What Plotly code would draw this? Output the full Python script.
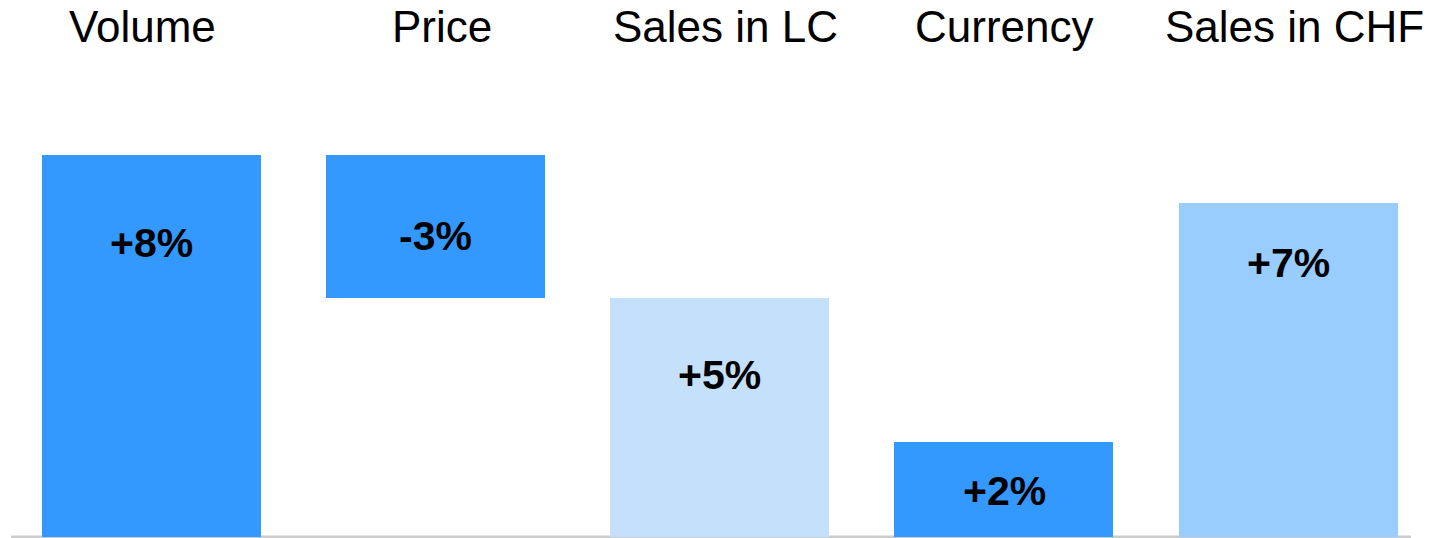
import plotly.graph_objects as go

# ---- data ----
categories = ["Volume", "Price", "Sales in LC", "Currency", "Sales in CHF"]
bar_base = [0, 5, 0, 0, 0]          # bottom of each bar (%)
bar_height = [8, 3, 5, 2, 7]        # height of each bar (%)
bar_labels = ["+8%", "-3%", "+5%", "+2%", "+7%"]

# ---- styling / placement ----
bar_colors = ["#3399FF", "#3399FF", "#C5E0FB", "#3399FF", "#99CCFF"]
label_y = [6.15, 6.31, 3.40, 0.96, 5.74]      # vertical position of value labels
title_xshift = [-9, 6, 6, 0, 6]

W, H = 1439, 538
px_per_unit = 47.75
y0_px = 537
y_min = -(H - y0_px) / px_per_unit
y_max = y0_px / px_per_unit

fig = go.Figure()
fig.add_trace(go.Bar(
    x=categories,
    y=bar_height,
    base=bar_base,
    marker=dict(color=bar_colors, line=dict(width=0)),
    width=0.7705,
    hoverinfo="skip",
))

for cat, lab, ly in zip(categories, bar_labels, label_y):
    fig.add_annotation(
        x=cat, y=ly, xref="x", yref="y", text=lab, showarrow=False,
        font=dict(family="Liberation Sans, Arial, sans-serif", size=41,
                  color="#000000", weight="bold"),
        xanchor="center", yanchor="middle",
    )

for cat, xs in zip(categories, title_xshift):
    fig.add_annotation(
        x=cat, y=1, xref="x", yref="paper", text=cat, showarrow=False,
        font=dict(family="Liberation Sans, Arial, sans-serif", size=44, color="#000000"),
        xanchor="center", yanchor="top", xshift=xs, yshift=0,
    )

x_left_px, x_right_px = 9.3, 1430.5
fig.add_shape(
    type="line", xref="paper", yref="y",
    x0=11 / W, x1=1411 / W, y0=0, y1=0,
    line=dict(color="#CCCCCC", width=3), layer="below",
)

fig.update_layout(
    width=W, height=H,
    margin=dict(l=0, r=0, t=0, b=0),
    paper_bgcolor="white", plot_bgcolor="white",
    showlegend=False,
    bargap=0,
    xaxis=dict(
        domain=[x_left_px / W, x_right_px / W],
        range=[-0.5, 4.5], showticklabels=False, showgrid=False,
        zeroline=False, showline=False, ticks="",
    ),
    yaxis=dict(
        range=[y_min, y_max], showticklabels=False, showgrid=False,
        zeroline=False, showline=False, ticks="",
    ),
)

fig.write_html("out.html")
